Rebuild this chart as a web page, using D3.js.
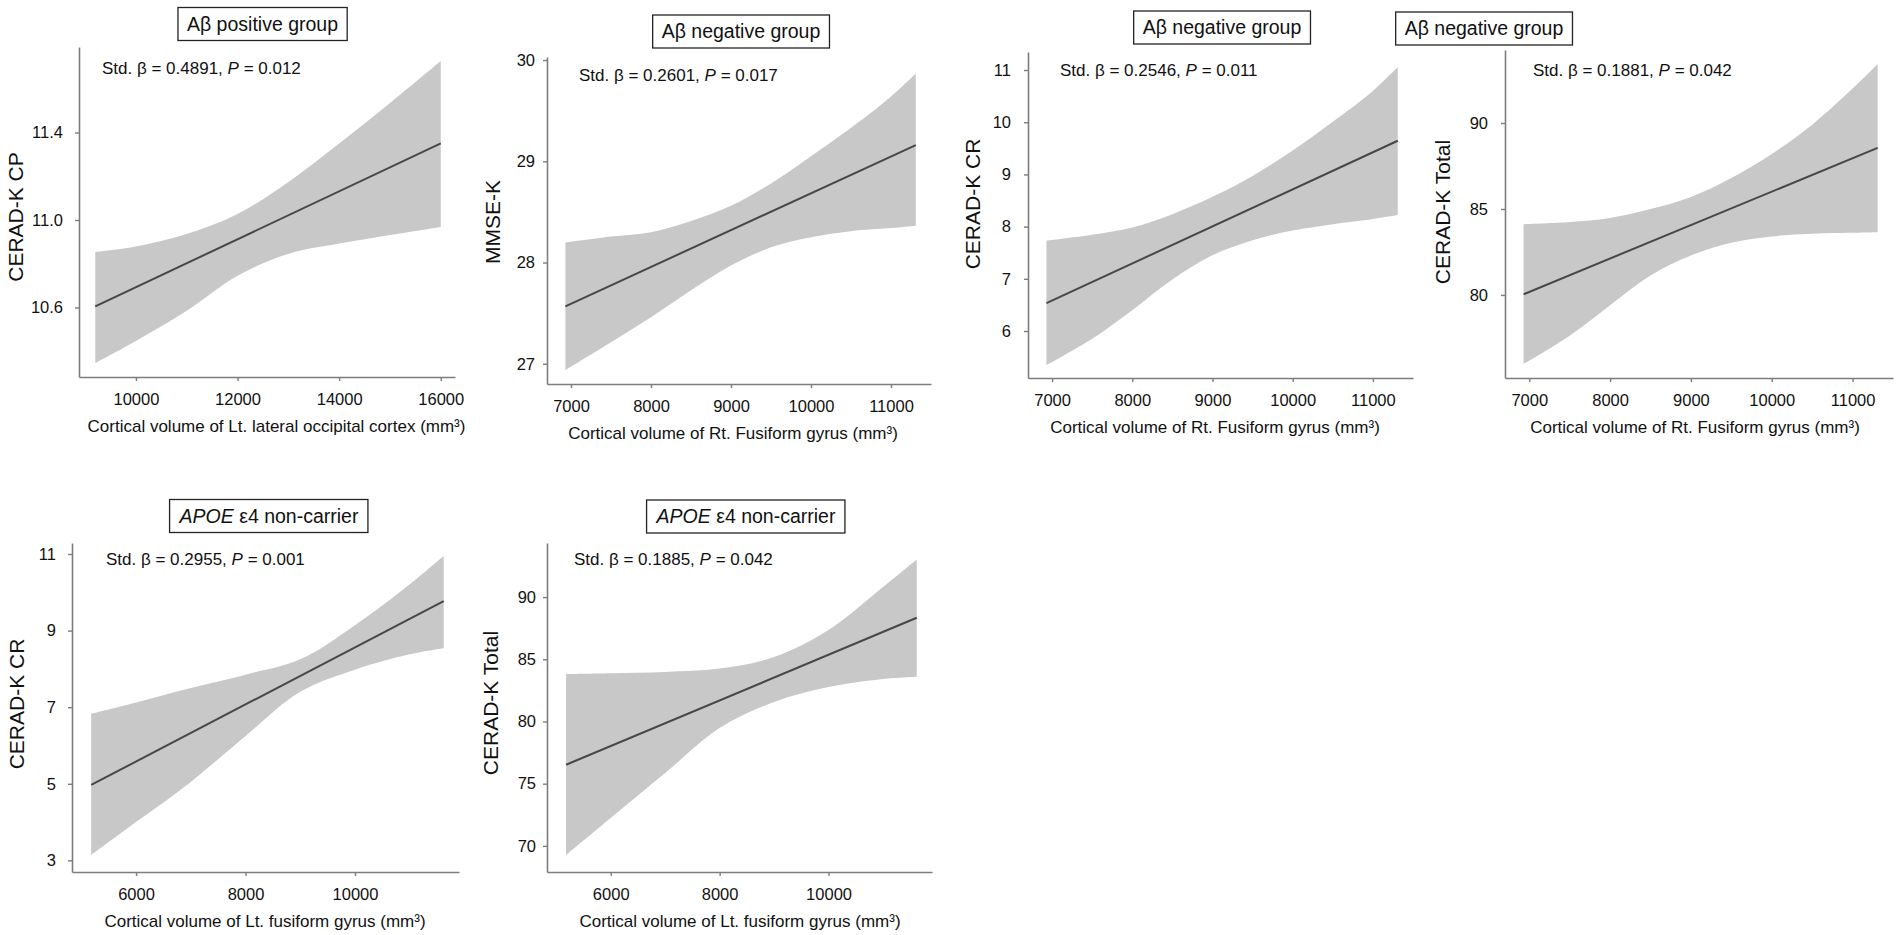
<!DOCTYPE html>
<html><head><meta charset="utf-8">
<script src="https://cdn.jsdelivr.net/npm/d3@7"></script>
<style>
body{margin:0;background:#fff}
svg{display:block}
text{font-family:"Liberation Sans",Arial,Helvetica,sans-serif;fill:#111}
</style>
</head><body>
<svg id="chart" width="1902" height="935"></svg>
<script>
// ---------- data ----------
const titleItalic = ["", "", "", "", "APOE", "APOE"];
const titleRest = ["Aβ positive group", "Aβ negative group", "Aβ negative group", "Aβ negative group", " ε4 non-carrier", " ε4 non-carrier"];
const betas = ["0.4891", "0.2601", "0.2546", "0.1881", "0.2955", "0.1885"];
const pValues = ["0.012", "0.017", "0.011", "0.042", "0.001", "0.042"];
const yLabels = ["CERAD-K CP", "MMSE-K", "CERAD-K CR", "CERAD-K Total", "CERAD-K CR", "CERAD-K Total"];
const xLabels = [
  "Cortical volume of Lt. lateral occipital cortex (mm³)",
  "Cortical volume of Rt. Fusiform gyrus (mm³)",
  "Cortical volume of Rt. Fusiform gyrus (mm³)",
  "Cortical volume of Rt. Fusiform gyrus (mm³)",
  "Cortical volume of Lt. fusiform gyrus (mm³)",
  "Cortical volume of Lt. fusiform gyrus (mm³)"
];

const yTicks1 = [10.6, 11.0, 11.4];
const yTicks2 = [27, 28, 29, 30];
const yTicks3 = [6, 7, 8, 9, 10, 11];
const yTicks4 = [80, 85, 90];
const yTicks5 = [3, 5, 7, 9, 11];
const yTicks6 = [70, 75, 80, 85, 90];
const xTicksLatOcc = [10000, 12000, 14000, 16000];
const xTicksRtFusi = [7000, 8000, 9000, 10000, 11000];
const xTicksLtFusi = [6000, 8000, 10000];

const xDomLatOcc = [8880, 16280];
const xDomRtFusi = [6700, 11500];
const xDomLtFusi = [4830, 11900];
const yDom1 = [10.282, 11.791];
const yDom2 = [26.80, 30.03];
const yDom3 = [5.10, 11.345];
const yDom4 = [75.17, 94.244];
const yDom5 = [2.697, 11.287];
const yDom6 = [67.90, 94.35];

// band x positions (cortical volume)
const bandXLatOcc = [9200, 10000, 11000, 12000, 13000, 14000, 15000, 16000];
const bandXRtFusi = [6930, 7500, 8000, 8500, 9000, 9500, 10000, 10500, 11000, 11310];
const bandXLtFusi = [5180, 6000, 7000, 8000, 9000, 10000, 11000, 11620];

// confidence band edges
const upper1 = [10.854, 10.879, 10.936, 11.027, 11.174, 11.350, 11.535, 11.727];
const lower1 = [10.346, 10.447, 10.585, 10.745, 10.845, 10.892, 10.931, 10.968];
const upper2 = [28.197, 28.256, 28.300, 28.410, 28.560, 28.780, 29.050, 29.330, 29.640, 29.868];
const lower2 = [26.938, 27.213, 27.459, 27.725, 27.970, 28.150, 28.250, 28.310, 28.340, 28.364];
const upper3 = [7.730, 7.843, 7.981, 8.238, 8.570, 8.970, 9.460, 10.010, 10.600, 11.057];
const lower3 = [5.349, 5.854, 6.400, 6.987, 7.450, 7.738, 7.925, 8.046, 8.146, 8.222];
const upper4 = [84.110, 84.238, 84.477, 84.994, 85.700, 86.800, 88.200, 89.900, 92.000, 93.430];
const lower4 = [75.988, 77.634, 79.407, 81.134, 82.297, 83.035, 83.401, 83.564, 83.616, 83.645];
const upper5 = [6.822, 7.120, 7.500, 7.850, 8.250, 9.140, 10.210, 10.948];
const lower5 = [3.141, 4.000, 5.050, 6.250, 7.400, 7.980, 8.380, 8.538];
const upper6 = [83.818, 83.883, 83.987, 84.252, 85.185, 87.355, 90.81, 93.03];
const lower6 = [69.269, 72.243, 75.860, 79.477, 81.568, 82.773, 83.416, 83.601];

// regression lines (start, end)
const line1 = [10.605, 11.35];
const line2 = [27.567, 29.16];
const line3 = [6.534, 9.645];
const line4 = [80.04, 88.55];
const line5 = [4.97, 9.77];
const line6 = [76.52, 88.34];

const panels = [
  {xDom: xDomLatOcc, yDom: yDom1, xT: xTicksLatOcc, yT: yTicks1, bx: bandXLatOcc, up: upper1, lo: lower1, ln: line1, fmt: ".1f"},
  {xDom: xDomRtFusi, yDom: yDom2, xT: xTicksRtFusi, yT: yTicks2, bx: bandXRtFusi, up: upper2, lo: lower2, ln: line2, fmt: "d"},
  {xDom: xDomRtFusi, yDom: yDom3, xT: xTicksRtFusi, yT: yTicks3, bx: bandXRtFusi, up: upper3, lo: lower3, ln: line3, fmt: "d"},
  {xDom: xDomRtFusi, yDom: yDom4, xT: xTicksRtFusi, yT: yTicks4, bx: bandXRtFusi, up: upper4, lo: lower4, ln: line4, fmt: "d"},
  {xDom: xDomLtFusi, yDom: yDom5, xT: xTicksLtFusi, yT: yTicks5, bx: bandXLtFusi, up: upper5, lo: lower5, ln: line5, fmt: "d"},
  {xDom: xDomLtFusi, yDom: yDom6, xT: xTicksLtFusi, yT: yTicks6, bx: bandXLtFusi, up: upper6, lo: lower6, ln: line6, fmt: "d"}
];

// ---------- layout (pixels) ----------
const layout = [
  {l: 79,   r: 455,  t: 47,  b: 377, tpad: 12, ylx: 16,   yly: 217, xtx: 276.5, tcx: 262.5, tcy: 24,   ax: 102,  ay: 74},
  {l: 547,  r: 931,  t: 57,  b: 384, tpad: 8,  ylx: 493,  yly: 222, xtx: 733,   tcx: 741,   tcy: 31.5, ax: 579,  ay: 81},
  {l: 1028, r: 1413, t: 52,  b: 378, tpad: 13, ylx: 973,  yly: 204, xtx: 1215,  tcx: 1222,  tcy: 27.5, ax: 1060, ay: 76},
  {l: 1505, r: 1893, t: 50,  b: 378, tpad: 13, ylx: 1443, yly: 212, xtx: 1695,  tcx: 1484,  tcy: 28.5, ax: 1533, ay: 76},
  {l: 72,   r: 459,  t: 543, b: 872, tpad: 12, ylx: 17,   yly: 704, xtx: 265,   tcx: 269,   tcy: 516,  ax: 106,  ay: 565},
  {l: 547,  r: 932,  t: 543, b: 872, tpad: 7,  ylx: 491,  yly: 703, xtx: 740,   tcx: 746,   tcy: 516.5,ax: 574,  ay: 565}
];

const AXIS_COLOR = "#7d7d7d";
const BAND_COLOR = "#c8c8c8";
const LINE_COLOR = "#474747";

const svg = d3.select("#chart");

panels.forEach((p, i) => {
  const L = layout[i];
  const g = svg.append("g");
  const x = d3.scaleLinear().domain(p.xDom).range([L.l, L.r]);
  const y = d3.scaleLinear().domain(p.yDom).range([L.b, L.t]);

  const band = p.bx.map((v, k) => ({x: v, hi: p.up[k], lo: p.lo[k]}));
  const area = d3.area()
    .x(d => x(d.x)).y0(d => y(d.lo)).y1(d => y(d.hi))
    .curve(d3.curveCatmullRom.alpha(0.5));
  g.append("path").datum(band).attr("d", area).attr("fill", BAND_COLOR);

  const lineData = [{x: p.bx[0], y: p.ln[0]}, {x: p.bx[p.bx.length - 1], y: p.ln[1]}];
  g.append("path").datum(lineData)
    .attr("d", d3.line().x(d => x(d.x)).y(d => y(d.y)))
    .attr("fill", "none").attr("stroke", LINE_COLOR).attr("stroke-width", 2);

  const yAxis = g.append("g").attr("transform", `translate(${L.l},0)`)
    .call(d3.axisLeft(y).tickValues(p.yT).tickFormat(d3.format(p.fmt))
      .tickSize(4).tickSizeOuter(0).tickPadding(L.tpad));
  const xAxis = g.append("g").attr("transform", `translate(0,${L.b})`)
    .call(d3.axisBottom(x).tickValues(p.xT).tickFormat(d3.format("d"))
      .tickSize(4).tickSizeOuter(0).tickPadding(12));
  [yAxis, xAxis].forEach(a => {
    a.attr("font-family", null).attr("font-size", null);
    a.select(".domain").attr("stroke", AXIS_COLOR).attr("stroke-width", 1.6);
    a.selectAll(".tick line").attr("stroke", AXIS_COLOR).attr("stroke-width", 1.4);
    a.selectAll(".tick text").attr("fill", "#111").style("font-size", "16.5px");
  });

  // y label
  g.append("text")
    .attr("transform", `translate(${L.ylx},${L.yly}) rotate(-90)`)
    .attr("text-anchor", "middle").attr("dy", "0.35em")
    .style("font-size", "21px").text(yLabels[i]);

  // x label
  g.append("text")
    .attr("x", L.xtx).attr("y", L.b + 55)
    .attr("text-anchor", "middle")
    .style("font-size", "17px").text(xLabels[i]);

  // annotation
  const ann = g.append("text").attr("x", L.ax).attr("y", L.ay).style("font-size", "17px");
  ann.append("tspan").text(`Std. β = ${betas[i]}, `);
  ann.append("tspan").style("font-style", "italic").text("P");
  ann.append("tspan").text(` = ${pValues[i]}`);

  // title box
  const rect = g.append("rect");
  const tt = g.append("text").attr("x", L.tcx).attr("y", L.tcy)
    .attr("text-anchor", "middle").attr("dy", "0.35em").style("font-size", "19.5px");
  if (titleItalic[i]) tt.append("tspan").style("font-style", "italic").text(titleItalic[i]);
  tt.append("tspan").text(titleRest[i]);
  const bb = tt.node().getBBox();
  rect.attr("x", bb.x - 9).attr("y", L.tcy - 16.5)
    .attr("width", bb.width + 18).attr("height", 33)
    .attr("fill", "#fff").attr("stroke", "#222").attr("stroke-width", 1.3);
});
</script>
</body></html>
